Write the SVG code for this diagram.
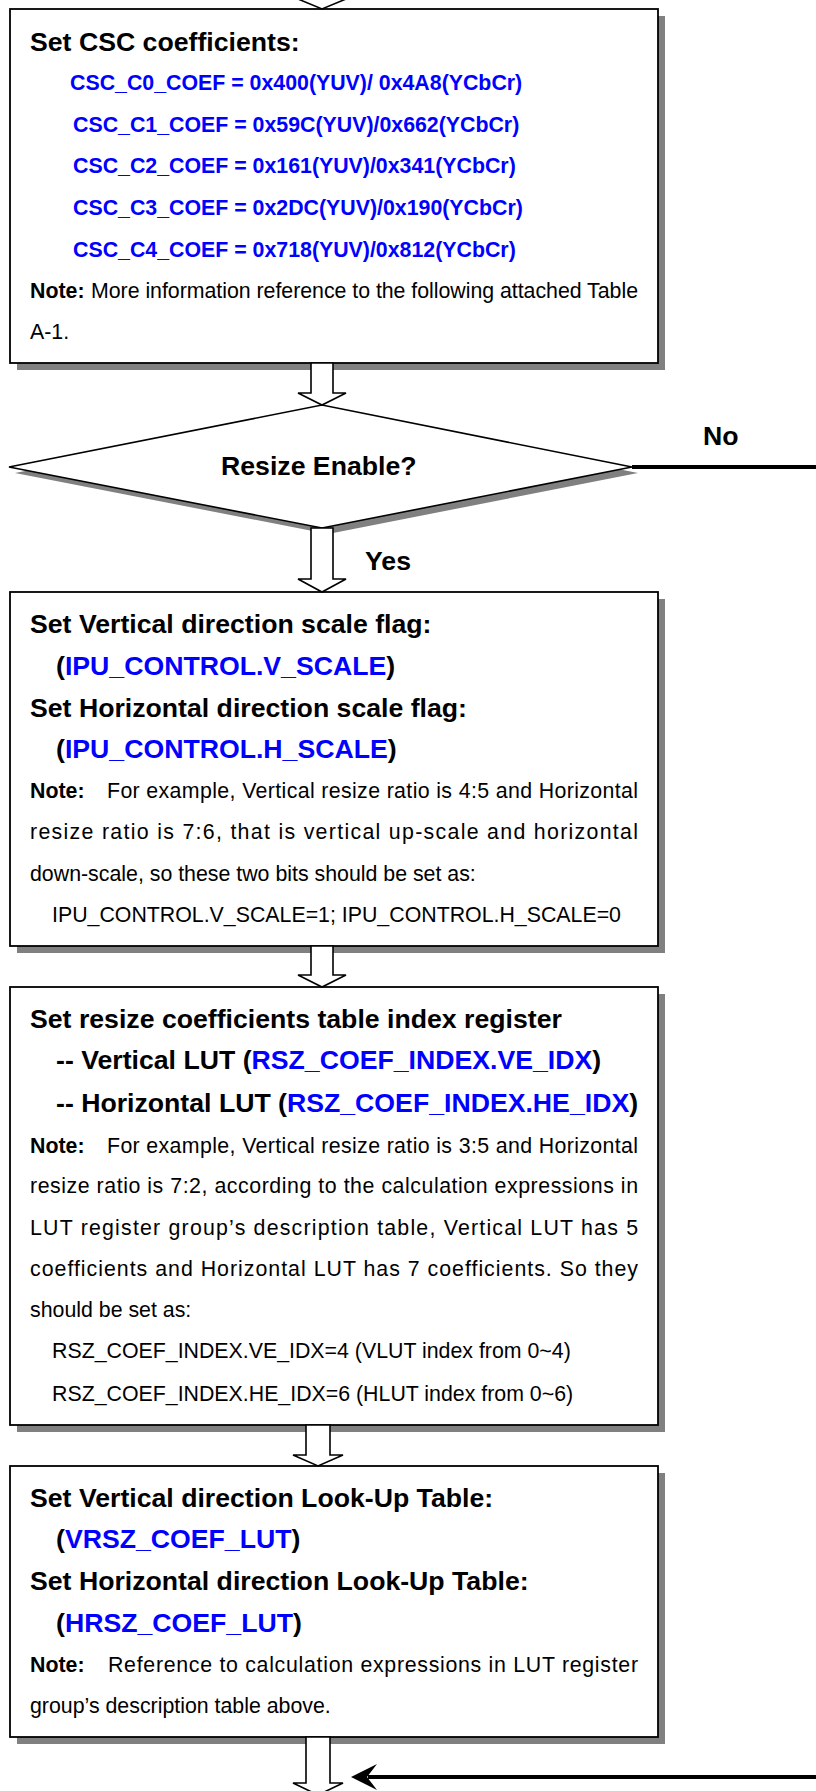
<svg xmlns="http://www.w3.org/2000/svg" width="816" height="1791" viewBox="0 0 816 1791">
<style>
.bg{fill:#fff}
.shadow{fill:#808080;stroke:none}
.box{fill:#fff;stroke:#000;stroke-width:1.8}
.arrow{fill:#fff;stroke:#000;stroke-width:1.6;stroke-linejoin:miter}
.line{fill:none;stroke:#000;stroke-width:4}
text{font-family:"Liberation Sans",Arial,sans-serif;fill:#000}
.h{font-size:26.67px;font-weight:bold}
.t{font-size:21.33px}
.tb{font-size:21.33px;font-weight:bold}
.blue{fill:#0000ff}
</style>
<rect class="bg" x="0" y="0" width="816" height="1791"/>

<g id="box1">
<rect class="shadow" x="17" y="16" width="648" height="354"/>
<rect class="box" x="10" y="9" width="648" height="354"/>
<text class="h" x="30" y="51">Set CSC coefficients:</text>
<text class="tb blue" x="70" y="90">CSC_C0_COEF = 0x400(YUV)/ 0x4A8(YCbCr)</text>
<text class="tb blue" x="73" y="132">CSC_C1_COEF = 0x59C(YUV)/0x662(YCbCr)</text>
<text class="tb blue" x="73" y="173">CSC_C2_COEF = 0x161(YUV)/0x341(YCbCr)</text>
<text class="tb blue" x="73" y="215">CSC_C3_COEF = 0x2DC(YUV)/0x190(YCbCr)</text>
<text class="tb blue" x="73" y="257">CSC_C4_COEF = 0x718(YUV)/0x812(YCbCr)</text>
<text class="tb" x="30" y="298">Note:</text>
<text class="t" x="91" y="298" textLength="547" lengthAdjust="spacing">More information reference to the following attached Table</text>
<text class="t" x="30" y="339">A-1.</text>
</g>

<g id="decision">
<polygon class="shadow" points="15,473 328,411 638,473 328,534"/>
<polygon class="box" points="9,467 322,405 632,467 322,528" style="stroke-width:1.6"/>
<text class="h" x="221" y="475">Resize Enable?</text>
</g>

<g id="box2">
<rect class="shadow" x="17" y="599" width="648" height="354"/>
<rect class="box" x="10" y="592" width="648" height="354"/>
<text class="h" x="30" y="633">Set Vertical direction scale flag:</text>
<text class="h" x="56" y="675">(<tspan class="blue">IPU_CONTROL.V_SCALE</tspan>)</text>
<text class="h" x="30" y="717">Set Horizontal direction scale flag:</text>
<text class="h" x="56" y="758">(<tspan class="blue">IPU_CONTROL.H_SCALE</tspan>)</text>
<text class="tb" x="30" y="798">Note:</text>
<text class="t" x="107" y="798" textLength="531" lengthAdjust="spacing">For example, Vertical resize ratio is 4:5 and Horizontal</text>
<text class="t" x="30" y="839" textLength="608" lengthAdjust="spacing">resize ratio is 7:6, that is vertical up-scale and horizontal</text>
<text class="t" x="30" y="881">down-scale, so these two bits should be set as:</text>
<text class="t" x="52" y="922">IPU_CONTROL.V_SCALE=1; IPU_CONTROL.H_SCALE=0</text>
</g>

<g id="box3">
<rect class="shadow" x="17" y="994" width="648" height="438"/>
<rect class="box" x="10" y="987" width="648" height="438"/>
<text class="h" x="30" y="1028">Set resize coefficients table index register</text>
<text class="h" x="56" y="1069">-- Vertical LUT (<tspan class="blue">RSZ_COEF_INDEX.VE_IDX</tspan>)</text>
<text class="h" x="56" y="1112">-- Horizontal LUT (<tspan class="blue">RSZ_COEF_INDEX.HE_IDX</tspan>)</text>
<text class="tb" x="30" y="1153">Note:</text>
<text class="t" x="107" y="1153" textLength="531" lengthAdjust="spacing">For example, Vertical resize ratio is 3:5 and Horizontal</text>
<text class="t" x="30" y="1193" textLength="608" lengthAdjust="spacing">resize ratio is 7:2, according to the calculation expressions in</text>
<text class="t" x="30" y="1235" textLength="608" lengthAdjust="spacing">LUT register group’s description table, Vertical LUT has 5</text>
<text class="t" x="30" y="1276" textLength="608" lengthAdjust="spacing">coefficients and Horizontal LUT has 7 coefficients. So they</text>
<text class="t" x="30" y="1317">should be set as:</text>
<text class="t" x="52" y="1358">RSZ_COEF_INDEX.VE_IDX=4 (VLUT index from 0~4)</text>
<text class="t" x="52" y="1401">RSZ_COEF_INDEX.HE_IDX=6 (HLUT index from 0~6)</text>
</g>

<g id="box4">
<rect class="shadow" x="17" y="1473" width="648" height="271"/>
<rect class="box" x="10" y="1466" width="648" height="271"/>
<text class="h" x="30" y="1507">Set Vertical direction Look-Up Table:</text>
<text class="h" x="56" y="1548">(<tspan class="blue">VRSZ_COEF_LUT</tspan>)</text>
<text class="h" x="30" y="1590">Set Horizontal direction Look-Up Table:</text>
<text class="h" x="56" y="1632">(<tspan class="blue">HRSZ_COEF_LUT</tspan>)</text>
<text class="tb" x="30" y="1672">Note:</text>
<text class="t" x="108" y="1672" textLength="530" lengthAdjust="spacing">Reference to calculation expressions in LUT register</text>
<text class="t" x="30" y="1713">group’s description table above.</text>
</g>

<g id="connectors">
<polygon class="arrow" points="311,-20 311,-1 298,-1 322,9 346,-1 333,-1 333,-20"/>
<polygon class="arrow" points="311,363 311,393 298,393 322,405 346,393 333,393 333,363"/>
<polygon class="arrow" points="311,528 311,579 298,579 322,592 346,579 333,579 333,528"/>
<polygon class="arrow" points="311,946 311,975 298,975 322,987 346,975 333,975 333,946"/>
<polygon class="arrow" points="306,1425 306,1455 293,1455 318,1466 343,1455 330,1455 330,1425"/>
<polygon class="arrow" points="306,1737 306,1783 293,1783 318,1795 343,1783 330,1783 330,1737"/>
<line class="line" x1="632" y1="467" x2="816" y2="467"/>
<line class="line" x1="816" y1="1777" x2="368" y2="1777"/>
<polygon points="351,1777 377,1764 367,1777 377,1790" fill="#000"/>
<text class="h" x="365" y="570">Yes</text>
<text class="h" x="703" y="445">No</text>
</g>
</svg>
